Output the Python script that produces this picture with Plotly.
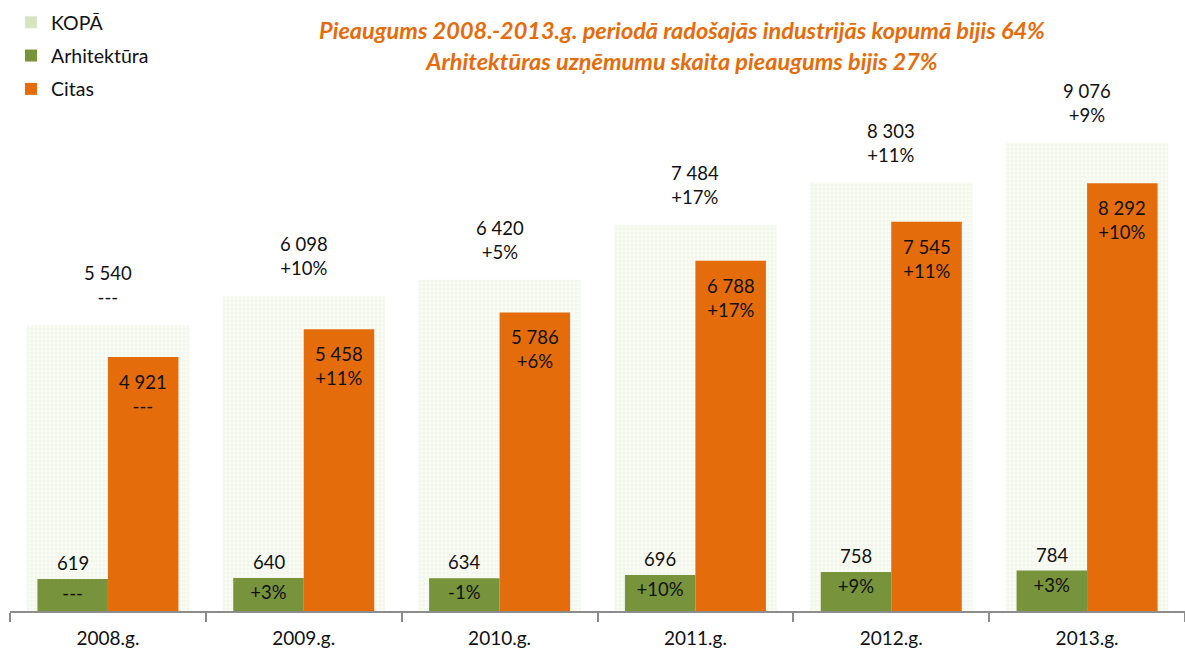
import plotly.graph_objects as go

categories = ["2008.g.", "2009.g.", "2010.g.", "2011.g.", "2012.g.", "2013.g."]
kopa = [5540, 6098, 6420, 7484, 8303, 9076]
kopa_pct = ["---", "+10%", "+5%", "+17%", "+11%", "+9%"]
arhitektura = [619, 640, 634, 696, 758, 784]
arh_pct = ["---", "+3%", "-1%", "+10%", "+9%", "+3%"]
citas = [4921, 5458, 5786, 6788, 7545, 8292]
citas_pct = ["---", "+11%", "+6%", "+17%", "+11%", "+10%"]

title_lines = ["Pieaugums 2008.-2013.g. periodā radošajās industrijās kopumā bijis 64%",
               "Arhitektūras uzņēmumu skaita pieaugums bijis 27%"]

def fmt(v):
    return f"{v:,}".replace(",", " ")

FONT = "Lato"
NUM = 18.5
C_KOPA = "#D7E4BD"
C_ARH = "#77933C"
C_CIT = "#E46C0A"

idx = list(range(len(categories)))
bw = 0.36
x_arh = [i - bw / 2 for i in idx]
x_cit = [i + bw / 2 for i in idx]

fig = go.Figure()

fig.add_trace(go.Bar(
    x=idx, y=kopa, width=0.83, name="KOPĀ",
    marker=dict(color="#FAFCF6", line=dict(width=0),
                pattern=dict(shape="+", fgcolor="#DDE8CC", bgcolor="#FAFCF6", size=4, solidity=0.25)),
    legendgroup="a", showlegend=False, hoverinfo="skip",
))
fig.add_trace(go.Bar(x=[None], y=[None], name="KOPĀ", marker=dict(color=C_KOPA), legendgroup="a"))

fig.add_trace(go.Bar(
    x=x_arh, y=arhitektura, width=bw, name="Arhitektūra",
    marker=dict(color=C_ARH, line=dict(width=0)),
    text=arh_pct, textposition="inside", insidetextanchor="end",
    textfont=dict(family=FONT, size=NUM, color="#111"), legendgroup="b",
))
fig.add_trace(go.Bar(
    x=x_cit, y=citas, width=bw, name="Citas",
    marker=dict(color=C_CIT, line=dict(width=0)), legendgroup="c",
))

annos = []
for i in idx:
    annos.append(dict(x=i, y=kopa[i], text=f"{fmt(kopa[i])}<br>{kopa_pct[i]}",
                      yanchor="bottom", yshift=15, showarrow=False))
    annos.append(dict(x=x_cit[i], y=citas[i], text=f"{fmt(citas[i])}<br>{citas_pct[i]}",
                      yanchor="top", yshift=-12, showarrow=False))
    annos.append(dict(x=x_arh[i], y=arhitektura[i], text=fmt(arhitektura[i]),
                      yanchor="bottom", yshift=3, showarrow=False))
for a in annos:
    a["font"] = dict(family=FONT, size=NUM, color="#111")
    a["xref"] = "x"
    a["yref"] = "y"

annos.append(dict(text="<b><i>" + title_lines[0] + "<br>" + title_lines[1] + "</i></b>",
                  xref="paper", yref="paper", x=(682 - 10) / 1175, y=(611 - 14) / 516,
                  xanchor="center", yanchor="top", showarrow=False,
                  font=dict(family=FONT, size=23.5, color=C_CIT), align="center"))

fig.update_layout(
    width=1185, height=649,
    barmode="overlay",
    plot_bgcolor="white", paper_bgcolor="white",
    margin=dict(l=10, r=0, t=95, b=38, autoexpand=False),
    font=dict(family=FONT, size=NUM, color="#111"),
    legend=dict(xref="container", yref="container", x=11 / 1185, y=1 - 3 / 649,
                xanchor="left", yanchor="top", bgcolor="rgba(0,0,0,0)",
                font=dict(family=FONT, size=19.5), tracegroupgap=5, itemwidth=30),
    xaxis=dict(range=[-0.5, 5.5], tickvals=idx, ticktext=categories, ticks="",
               automargin=False, ticklabelstandoff=9,
               showline=True, linecolor="#8C8C8C", linewidth=2, showgrid=False, zeroline=False,
               tickfont=dict(family=FONT, size=19, color="#111"),
               minor=dict(tickvals=[i - 0.5 for i in idx] + [5.5], ticks="outside", ticklen=9,
                          tickcolor="#8C8C8C", tickwidth=2, showgrid=False)),
    yaxis=dict(range=[0, 10000], visible=False, automargin=False),
    annotations=annos,
)

fig.write_html("out.html", config={"displayModeBar": False},
               post_script="document.body.style.margin='0';")
